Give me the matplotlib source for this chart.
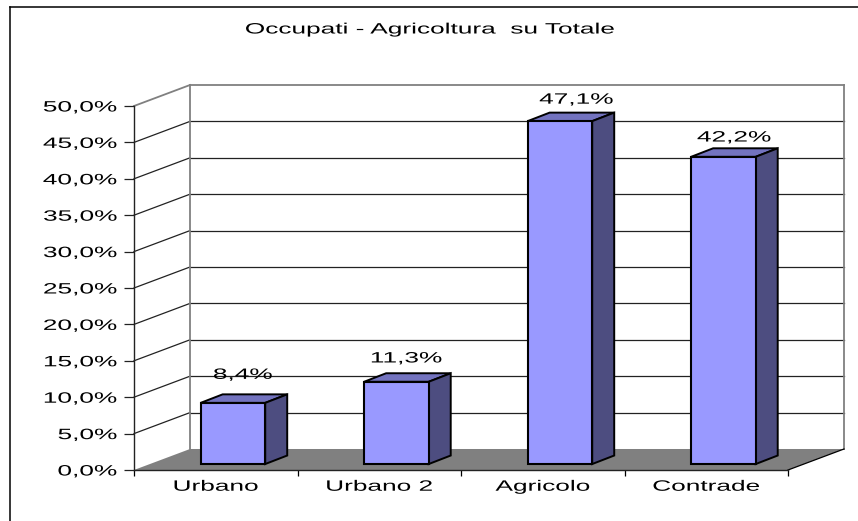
import matplotlib
matplotlib.use("Agg")
import matplotlib.pyplot as plt
from matplotlib.lines import Line2D
from matplotlib.patches import Polygon
from matplotlib.patheffects import AbstractPathEffect
from matplotlib.transforms import Affine2D

plt.rcParams['font.family'] = ['Liberation Sans', 'DejaVu Sans']

# Data
categories = ['Urbano', 'Urbano 2', 'Agricolo', 'Contrade']
values = [8.4, 11.3, 47.1, 42.2]
value_labels = ['8,4%', '11,3%', '47,1%', '42,2%']
y_ticks = [0, 5, 10, 15, 20, 25, 30, 35, 40, 45, 50]
y_tick_labels = ['0,0%', '5,0%', '10,0%', '15,0%', '20,0%', '25,0%',
                 '30,0%', '35,0%', '40,0%', '45,0%', '50,0%']
title = 'Occupati - Agricoltura  su Totale'

# Fake 3D offsets, in data units
wall_dx, wall_dy = 0.3425, 2.885
bar_dx, bar_dy = 0.1346, 1.17
bar_shift, bar_base, bar_width = 0.105, 0.82, 0.395
# label offsets from the bar top: percent up, categories right
label_gap = [3.85, 3.2, 2.95, 2.65]
label_nudge = [0.06, 0.06, 0.10, 0.065]

W, H = 858, 521


class Stretch(AbstractPathEffect):
    # the text in the reference is squashed wider than any installed font
    def __init__(self, sx=1.75, anchor='center'):
        super().__init__()
        self.sx = sx
        self.anchor = anchor

    def draw_path(self, renderer, gc, tpath, affine, rgbFace=None):
        box = tpath.get_extents(affine)
        x0 = box.x1 if self.anchor == 'right' else (box.x0 + box.x1) / 2
        stretched = affine + Affine2D().translate(-x0, 0).scale(self.sx, 1).translate(x0, 0)
        renderer.draw_path(gc, tpath, stretched, rgbFace)


fig = plt.figure(figsize=(W / 100, H / 100), dpi=100)
ax = fig.add_axes([134 / W, (H - 470) / H, 654 / W, 364 / H])
ax.set_xlim(0, 4)
ax.set_ylim(0, 50)

# outer frame, open on the right and at the bottom
fig.add_artist(Line2D([10 / W, 1], [1 - 7 / H, 1 - 7 / H], color='black', lw=1.1))
fig.add_artist(Line2D([10 / W, 10 / W], [0, 1 - 7 / H], color='black', lw=1.1))

# back wall and side wall grid
for t in y_ticks[1:]:
    col = '#808080' if t == 50 else '#222222'
    lw = 1.3 if t == 50 else 0.9
    ax.plot([0, wall_dx], [t, t + wall_dy], color=col, lw=lw, clip_on=False, zorder=1)
    ax.plot([wall_dx, 4 + wall_dx], [t + wall_dy, t + wall_dy], color=col, lw=lw,
            clip_on=False, zorder=1)
for x in [wall_dx, 4 + wall_dx]:
    ax.plot([x, x], [wall_dy, 50 + wall_dy], color='#808080', lw=1.3, clip_on=False, zorder=1)

# floor
ax.add_patch(Polygon([(0, 0), (4, 0), (4 + wall_dx, wall_dy), (wall_dx, wall_dy)],
                     facecolor='#808080', edgecolor='none', clip_on=False, zorder=2))
ax.plot([4, 4 + wall_dx], [0, wall_dy], color='black', lw=0.9, clip_on=False, zorder=2)

# bars: front from ax.bar, then top and side faces
centers = [i + 0.5 + bar_shift for i in range(len(values))]
ax.bar(centers, values, bar_width, bottom=bar_base, color='#9999FF',
       edgecolor='black', linewidth=1.5, clip_on=False, zorder=4)
for c, v, lab, gap, nudge in zip(centers, values, value_labels, label_gap, label_nudge):
    x0, x1 = c - bar_width / 2, c + bar_width / 2
    top = bar_base + v
    ax.add_patch(Polygon([(x0, top), (x1, top), (x1 + bar_dx, top + bar_dy), (x0 + bar_dx, top + bar_dy)],
                         facecolor='#7373BF', edgecolor='black', lw=1.4, clip_on=False, zorder=3))
    ax.add_patch(Polygon([(x1, bar_base), (x1 + bar_dx, bar_base + bar_dy),
                          (x1 + bar_dx, top + bar_dy), (x1, top)],
                         facecolor='#4D4D80', edgecolor='black', lw=1.4, clip_on=False, zorder=3))
    txt = ax.text(c + nudge, top + gap, lab, ha='center', va='center', fontsize=10.8,
                  color='black', zorder=5, clip_on=False)
    txt.set_path_effects([Stretch()])

# axes
for side in ['top', 'right']:
    ax.spines[side].set_visible(False)
ax.patch.set_visible(False)
for side in ['left', 'bottom']:
    ax.spines[side].set_color('#222222')
    ax.spines[side].set_linewidth(1.0)
    ax.spines[side].set_zorder(6)

ax.set_yticks(y_ticks)
ax.set_yticklabels(y_tick_labels, fontsize=10.8)
ax.tick_params(axis='y', length=7.2, width=0.9, pad=5, color='#222222')
for lab in ax.get_yticklabels():
    lab.set_path_effects([Stretch(anchor='right')])

ax.set_xticks(range(5))
ax.set_xticklabels([])
ax.tick_params(axis='x', which='major', length=4, width=0.9, color='black')
ax.set_xticks([i + 0.5 for i in range(len(categories))], minor=True)
ax.set_xticklabels(categories, minor=True, fontsize=10.8)
ax.tick_params(axis='x', which='minor', length=0, pad=7)
for lab in ax.get_xticklabels(minor=True):
    lab.set_path_effects([Stretch()])

t = fig.text(430 / W, 1 - 29.5 / H, title, ha='center', va='center', fontsize=10.8, color='black')
t.set_path_effects([Stretch()])

plt.savefig('out.png', dpi=100)
